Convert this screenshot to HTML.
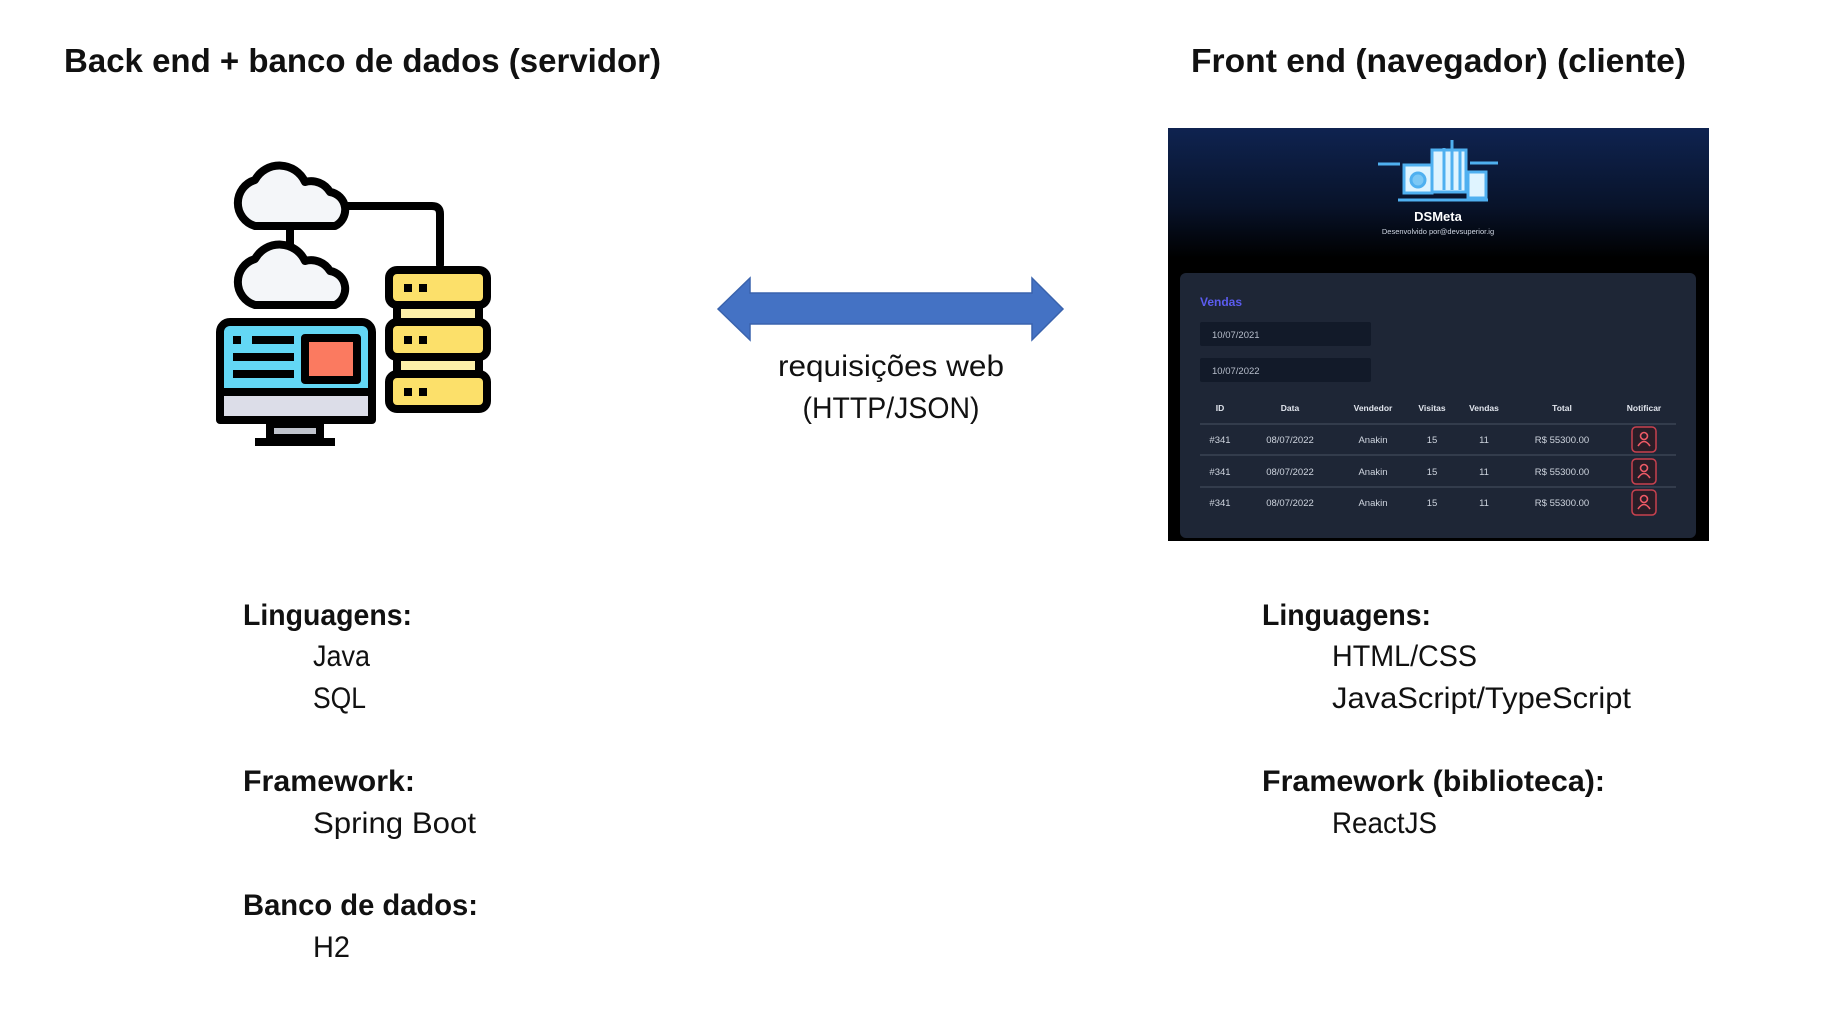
<!DOCTYPE html>
<html><head><meta charset="utf-8"><style>
html,body{margin:0;padding:0;background:#fff;width:1825px;height:1023px;overflow:hidden}
svg{display:block}
text{font-family:"Liberation Sans",sans-serif}
</style></head><body>
<svg width="1825" height="1023" viewBox="0 0 1825 1023" xmlns="http://www.w3.org/2000/svg">
<defs>
<linearGradient id="hdr" x1="0" y1="0" x2="0" y2="1">
<stop offset="0" stop-color="#0f2350"/><stop offset="0.6" stop-color="#08132a"/><stop offset="1" stop-color="#000"/>
</linearGradient>
</defs>
<text x="64" y="72" font-size="33" font-weight="bold" fill="#111" textLength="597" lengthAdjust="spacingAndGlyphs">Back end + banco de dados (servidor)</text>
<text x="1191" y="72" font-size="33" font-weight="bold" fill="#111" textLength="495" lengthAdjust="spacingAndGlyphs">Front end (navegador) (cliente)</text>

<g stroke="#000" stroke-width="8" stroke-linejoin="round" stroke-linecap="round">
<path d="M343 206 H432 Q440 206 440 214 V265" fill="none"/>
<line x1="290" y1="226" x2="290" y2="250"/>
<path d="M250 226 H330 A18 18 0 0 0 325 192 A22 22 0 0 0 300 182 A28 28 0 0 0 250 180 A24 24 0 0 0 250 226 Z" fill="#f4f6f9" transform="translate(5,0)"/>
<path d="M250 305 H330 A18 18 0 0 0 325 271 A22 22 0 0 0 300 261 A28 28 0 0 0 250 259 A24 24 0 0 0 250 305 Z" fill="#f4f6f9" transform="translate(5,0)"/>
<rect x="220" y="322" width="152" height="98" rx="10" fill="#63d7f5"/>
<rect x="220" y="392" width="152" height="28" fill="#dcdde8"/>
<rect x="270" y="424" width="50" height="14" fill="#bfc3cc"/>
<rect x="305" y="338" width="52" height="42" fill="#fb7a60"/>
<rect x="389" y="270" width="98" height="35" rx="8" fill="#fce06a"/>
<rect x="397" y="305" width="82" height="17" fill="#fdf0a8"/>
<rect x="389" y="322" width="98" height="35" rx="8" fill="#fce06a"/>
<rect x="397" y="357" width="82" height="17" fill="#fdf0a8"/>
<rect x="389" y="374" width="98" height="35" rx="8" fill="#fce06a"/>
</g>
<g fill="#000">
<rect x="255" y="438" width="80" height="8"/>
<rect x="233" y="336" width="8" height="8"/><rect x="252" y="336" width="42" height="8"/>
<rect x="233" y="353" width="61" height="8"/><rect x="233" y="370" width="61" height="8"/>
<rect x="404" y="284" width="8" height="8"/><rect x="419" y="284" width="8" height="8"/>
<rect x="404" y="336" width="8" height="8"/><rect x="419" y="336" width="8" height="8"/>
<rect x="404" y="388" width="8" height="8"/><rect x="419" y="388" width="8" height="8"/>
</g>

<polygon points="718,309 750,278 750,293 1032,293 1032,278 1063,309 1032,340 1032,324 750,324 750,340" fill="#4472c4" stroke="#3a63ad" stroke-width="1.5"/>
<text x="891" y="376" font-size="30" fill="#111" text-anchor="middle" textLength="226" lengthAdjust="spacingAndGlyphs">requisições web</text>
<text x="891" y="418" font-size="30" fill="#111" text-anchor="middle" textLength="177" lengthAdjust="spacingAndGlyphs">(HTTP/JSON)</text>

<rect x="1168" y="128" width="541" height="413" fill="#000"/>
<rect x="1168" y="128" width="541" height="130" fill="url(#hdr)"/>
<g fill="none" stroke="#4fb0f0" stroke-width="3">
<rect x="1404" y="165" width="28" height="28" fill="#dff4ff"/>
<rect x="1432" y="150" width="34" height="42" fill="#dff4ff"/>
<rect x="1468" y="172" width="18" height="26" fill="#dff4ff"/>
<line x1="1444" y1="148" x2="1444" y2="190"/><line x1="1452" y1="140" x2="1452" y2="190"/><line x1="1460" y1="150" x2="1460" y2="190"/>
<circle cx="1418" cy="180" r="7" fill="#7cc8f5"/>
<line x1="1378" y1="164" x2="1400" y2="164"/><line x1="1470" y1="163" x2="1498" y2="163"/>
<line x1="1398" y1="200" x2="1488" y2="200"/>
</g>
<text x="1438" y="221" font-size="13" font-weight="bold" fill="#fff" text-anchor="middle">DSMeta</text>
<text x="1438" y="234" font-size="7.5" fill="#cfd6e2" text-anchor="middle">Desenvolvido por@devsuperior.ig</text>
<rect x="1180" y="273" width="516" height="265" rx="6" fill="#1e2636"/>
<text x="1200" y="306" font-size="12" font-weight="bold" fill="#5b5cf0">Vendas</text>
<rect x="1200" y="322" width="171" height="24" rx="2" fill="#121a29"/>
<rect x="1200" y="358" width="171" height="24" rx="2" fill="#121a29"/>
<text x="1212" y="338" font-size="9.5" fill="#b8bfcc">10/07/2021</text>
<text x="1212" y="374" font-size="9.5" fill="#b8bfcc">10/07/2022</text>
<g font-size="8.5" font-weight="bold" fill="#e2e6ee" text-anchor="middle">
<text x="1220" y="411">ID</text><text x="1290" y="411">Data</text><text x="1373" y="411">Vendedor</text><text x="1432" y="411">Visitas</text><text x="1484" y="411">Vendas</text><text x="1562" y="411">Total</text><text x="1644" y="411">Notificar</text>
</g>
<g stroke="#3a4354" stroke-width="1.5"><line x1="1200" y1="424" x2="1676" y2="424"/><line x1="1200" y1="455" x2="1676" y2="455"/><line x1="1200" y1="487" x2="1676" y2="487"/></g>
<g font-size="9.5" fill="#cfd5df" text-anchor="middle">
<text x="1220" y="443">#341</text><text x="1290" y="443">08/07/2022</text><text x="1373" y="443">Anakin</text><text x="1432" y="443">15</text><text x="1484" y="443">11</text><text x="1562" y="443">R$ 55300.00</text>
<text x="1220" y="475">#341</text><text x="1290" y="475">08/07/2022</text><text x="1373" y="475">Anakin</text><text x="1432" y="475">15</text><text x="1484" y="475">11</text><text x="1562" y="475">R$ 55300.00</text>
<text x="1220" y="506">#341</text><text x="1290" y="506">08/07/2022</text><text x="1373" y="506">Anakin</text><text x="1432" y="506">15</text><text x="1484" y="506">11</text><text x="1562" y="506">R$ 55300.00</text>
</g>
<g fill="#2a1d27" stroke="#c8414f" stroke-width="1.5">
<rect x="1632" y="427" width="24" height="25" rx="4"/><rect x="1632" y="459" width="24" height="25" rx="4"/><rect x="1632" y="490" width="24" height="25" rx="4"/>
</g>
<g fill="none" stroke="#ef5a66" stroke-width="1.6">
<circle cx="1644" cy="436" r="3.5"/><path d="M1638 446 Q1644 437 1650 446"/>
<circle cx="1644" cy="468" r="3.5"/><path d="M1638 478 Q1644 469 1650 478"/>
<circle cx="1644" cy="499" r="3.5"/><path d="M1638 509 Q1644 500 1650 509"/>
</g>

<g fill="#111">
<text x="243" y="625" font-size="30" font-weight="bold" textLength="169" lengthAdjust="spacingAndGlyphs">Linguagens:</text>
<text x="313" y="666" font-size="30" textLength="57" lengthAdjust="spacingAndGlyphs">Java</text>
<text x="313" y="708" font-size="30" textLength="53" lengthAdjust="spacingAndGlyphs">SQL</text>
<text x="243" y="791" font-size="30" font-weight="bold" textLength="172" lengthAdjust="spacingAndGlyphs">Framework:</text>
<text x="313" y="833" font-size="30" textLength="163" lengthAdjust="spacingAndGlyphs">Spring Boot</text>
<text x="243" y="915" font-size="30" font-weight="bold" textLength="235" lengthAdjust="spacingAndGlyphs">Banco de dados:</text>
<text x="313" y="957" font-size="30" textLength="37" lengthAdjust="spacingAndGlyphs">H2</text>
<text x="1262" y="625" font-size="30" font-weight="bold" textLength="169" lengthAdjust="spacingAndGlyphs">Linguagens:</text>
<text x="1332" y="666" font-size="30" textLength="145" lengthAdjust="spacingAndGlyphs">HTML/CSS</text>
<text x="1332" y="708" font-size="30" textLength="299" lengthAdjust="spacingAndGlyphs">JavaScript/TypeScript</text>
<text x="1262" y="791" font-size="30" font-weight="bold" textLength="343" lengthAdjust="spacingAndGlyphs">Framework (biblioteca):</text>
<text x="1332" y="833" font-size="30" textLength="105" lengthAdjust="spacingAndGlyphs">ReactJS</text>
</g>
</svg>
</body></html>
